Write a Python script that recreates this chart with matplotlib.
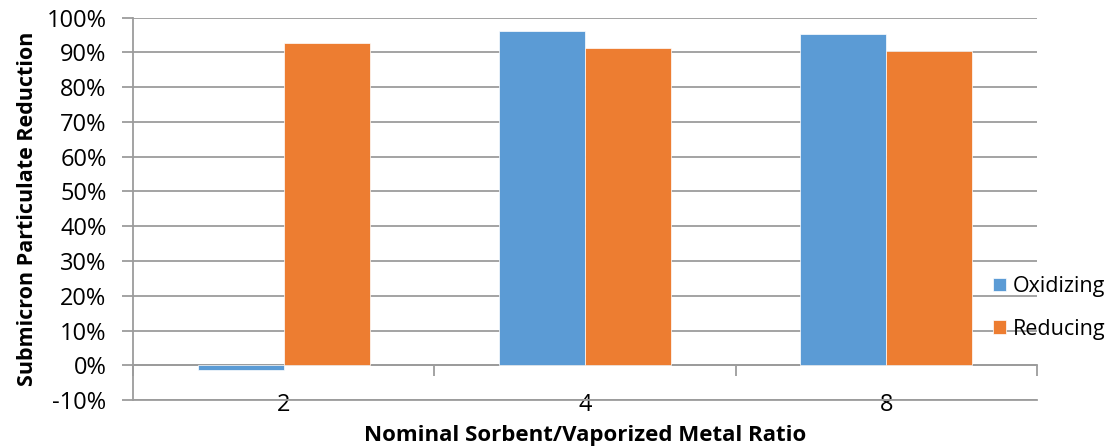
import numpy as np
import matplotlib.pyplot as plt
from matplotlib.ticker import PercentFormatter

plt.rcParams['font.family'] = ['Open Sans', 'DejaVu Sans']
plt.rcParams['axes.unicode_minus'] = False

ratios = ['2', '4', '8']
oxidizing = [-0.014, 0.963, 0.952]
reducing = [0.926, 0.912, 0.904]

blue = '#5B9BD5'
orange = '#ED7D31'
grid_gray = '#9c9c9c'

fig = plt.figure(figsize=(11.09, 4.46), dpi=100)
ax = fig.add_axes([0.1199, 0.1031, 0.8152, 0.8572])

x = np.arange(len(ratios))
w = 0.285
ax.bar(x - w / 2, oxidizing, w, color=blue, edgecolor='white', linewidth=0.5,
       label='Oxidizing', zorder=3)
ax.bar(x + w / 2, reducing, w, color=orange, edgecolor='white', linewidth=0.5,
       label='Reducing', zorder=3)

ax.set_xlim(-0.5, len(ratios) - 0.5)
ax.set_ylim(-0.1, 1.0)
ax.set_yticks(np.arange(-0.1, 1.001, 0.1))
ax.yaxis.set_major_formatter(PercentFormatter(1.0, decimals=0))
ax.grid(axis='y', color=grid_gray, linewidth=1.3, zorder=0)

for side in ['top', 'right']:
    ax.spines[side].set_visible(False)
ax.spines['left'].set_color(grid_gray)
ax.spines['left'].set_linewidth(1.3)
ax.spines['bottom'].set_color(grid_gray)
ax.spines['bottom'].set_linewidth(1.3)

ax.tick_params(axis='y', direction='out', length=8, width=1.3, color=grid_gray,
               labelsize=17, pad=11)
ax.set_xticks(x)
ax.set_xticklabels(ratios)
ax.tick_params(axis='x', length=0, pad=-5, labelsize=17)

# category axis drawn at the 0% line, with ticks between groups
sec = ax.secondary_xaxis(0, transform=ax.transData)
sec.set_xticks(np.arange(-0.5, len(ratios), 1.0))
sec.set_xticklabels([])
sec.tick_params(direction='out', length=8, width=1.3, color=grid_gray)
sec.spines['bottom'].set_color(grid_gray)
sec.spines['bottom'].set_linewidth(1.3)

ax.set_ylabel('Submicron Particulate Reduction', fontsize=15.5,
              fontweight='bold', labelpad=6)
ax.set_xlabel('Nominal Sorbent/Vaporized Metal Ratio', fontsize=16,
              fontweight='bold', labelpad=6)

fig.legend(loc='upper left', bbox_to_anchor=(0.888, 0.40), frameon=False,
           fontsize=15.5, handlelength=0.6, handleheight=0.6, handletextpad=0.3,
           labelspacing=1.0, borderaxespad=0)

fig.savefig('out.png', dpi=100)
